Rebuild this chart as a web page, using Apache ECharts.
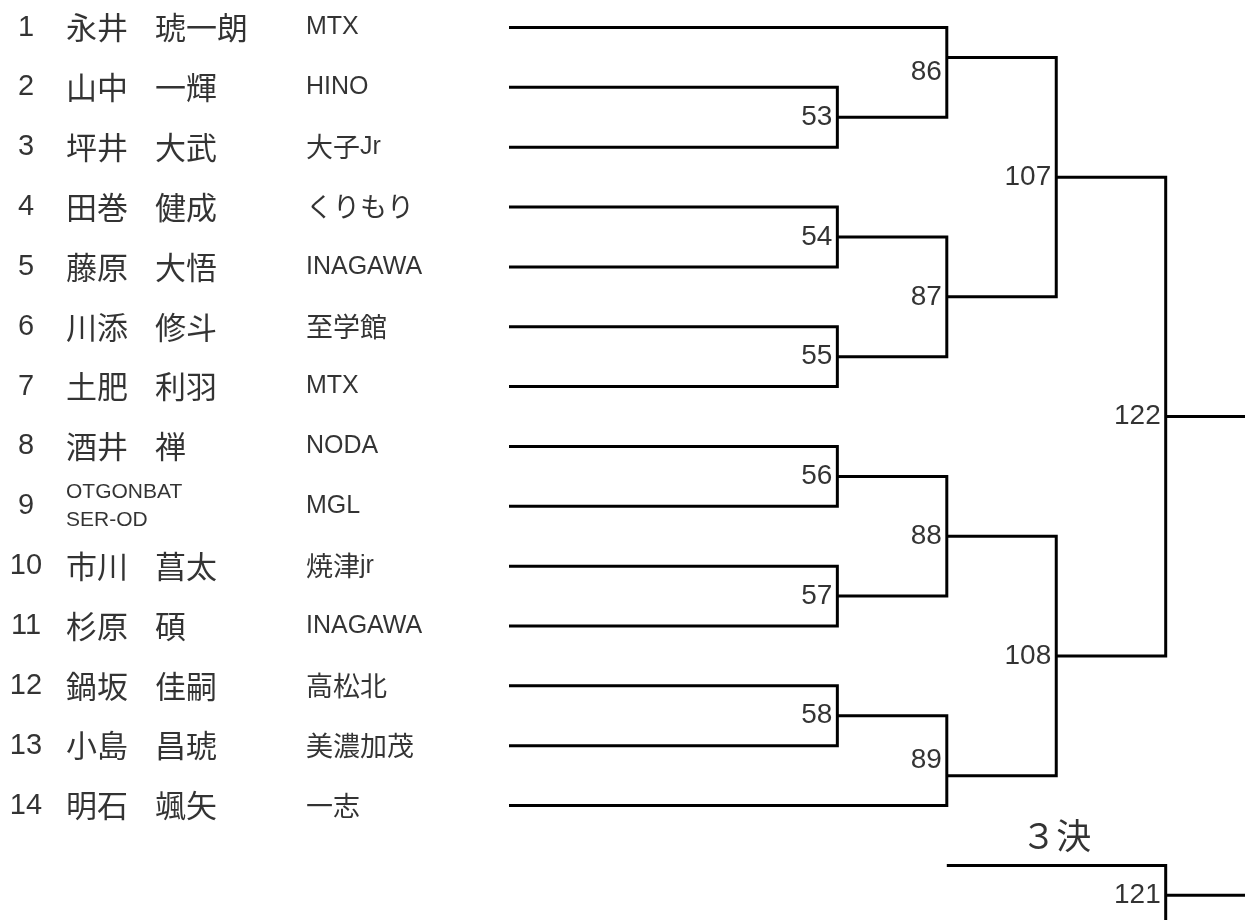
<!DOCTYPE html>
<html>
<head>
<meta charset="utf-8">
<script src="https://cdn.jsdelivr.net/npm/echarts@6/dist/echarts.min.js"></script>
<style>html,body{margin:0;padding:0;background:#fff}#c{width:1245px;height:920px}</style>
</head>
<body>
<div id="c"></div>
<script>
// ---------- data ----------
const playerNos = [1, 2, 3, 4, 5, 6, 7, 8, 9, 10, 11, 12, 13, 14];
const surnames = ['永井', '山中', '坪井', '田巻', '藤原', '川添', '土肥', '酒井', 'OTGONBAT', '市川', '杉原', '鍋坂', '小島', '明石'];
const givenNames = ['琥一朗', '一輝', '大武', '健成', '大悟', '修斗', '利羽', '禅', 'SER-OD', '菖太', '碩', '佳嗣', '昌琥', '颯矢'];
const teams = ['MTX', 'HINO', '大子Jr', 'くりもり', 'INAGAWA', '至学館', 'MTX', 'NODA', 'MGL', '焼津jr', 'INAGAWA', '高松北', '美濃加茂', '一志'];

const matchNos    = [53, 54, 55, 56, 57, 58, 86, 87, 88, 89, 107, 108, 122, 121];
const matchTop    = ['P2', 'P4', 'P6', 'P8', 'P10', 'P12', 'P1', 'M54', 'M56', 'M58', 'M86', 'M88', 'M107', 'L107'];
const matchBottom = ['P3', 'P5', 'P7', 'P9', 'P11', 'P13', 'M53', 'M55', 'M57', 'P14', 'M87', 'M89', 'M108', 'L108'];
const matchRound  = [3, 3, 3, 3, 3, 3, 4, 4, 4, 4, 5, 5, 6, 6];
const matchExitRow = [null, null, null, null, null, null, 1.5, null, null, 13.5, null, null, null, null];
const thirdPlaceTitle = '３決';
const thirdPlaceRows = [15, 16];   // slots of the 3rd-place match (L107 / L108)
const thirdPlaceStartRound = 4;

// ---------- layout ----------
const W = 1245, H = 920;
const COL_UNIT = 109.45, COL0_PX = 509, ROW_UNIT = 59.85, ROW1_PX = 27.5;
const xMin = -COL0_PX / COL_UNIT, xMax = (W - COL0_PX) / COL_UNIT;
const yMin = 1 - ROW1_PX / ROW_UNIT, yMax = yMin + H / ROW_UNIT;
const pxToCol = px => (px - COL0_PX) / COL_UNIT;
const numberX = pxToCol(26), surnameX = pxToCol(66), givenX = pxToCol(155), teamX = pxToCol(306);

// ---------- build bracket ----------
const slots = {};
playerNos.forEach(n => { slots['P' + n] = { row: n, col: 0 }; });
slots['L107'] = { row: thirdPlaceRows[0], col: thirdPlaceStartRound };
slots['L108'] = { row: thirdPlaceRows[1], col: thirdPlaceStartRound };
const referenced = new Set([...matchTop, ...matchBottom]);
const lineData = [], matchLabelData = [];
matchNos.forEach((no, i) => {
  const a = slots[matchTop[i]], b = slots[matchBottom[i]], c = matchRound[i];
  const mid = (a.row + b.row) / 2;
  const out = matchExitRow[i] != null ? matchExitRow[i] : mid;
  slots['M' + no] = { row: out, col: c };
  lineData.push({ coords: [[a.col, a.row], [c, a.row], [c, b.row], [b.col, b.row]] });
  matchLabelData.push([c, mid, String(no)]);
  if (!referenced.has('M' + no)) lineData.push({ coords: [[c, out], [xMax + 1, out]] });
});

const LATIN = "'Liberation Sans', Arial, sans-serif";
const CJK = "'Noto Sans CJK JP', sans-serif";
const mixRich = (s) => s.replace(/([\x00-\x7f]+)|([^\x00-\x7f]+)/g, (m, l, c) => l ? '{l|' + l + '}' : '{c|' + c + '}');

function textSeries(data, label) {
  return {
    type: 'scatter', symbolSize: 0, silent: true, data,
    itemStyle: { color: 'transparent' },
    label: Object.assign({ show: true, color: '#000', formatter: p => p.value[2] }, label)
  };
}

const numberData = playerNos.map(n => [numberX, n, String(n)]);
const surnameData = [], givenData = [], latinNameData = [];
playerNos.forEach((n, i) => {
  if (/^[A-Za-z]/.test(surnames[i])) latinNameData.push([surnameX, n, surnames[i] + '\n' + givenNames[i]]);
  else { surnameData.push([surnameX, n, surnames[i]]); givenData.push([givenX, n, givenNames[i]]); }
});
const teamData = playerNos.map((n, i) => [teamX, n, teams[i]]);

const chart = echarts.init(document.getElementById('c'), null, { renderer: 'canvas' });
chart.setOption({
  animation: false,
  backgroundColor: '#fff',
  grid: { left: 0, right: 0, top: 0, bottom: 0, containLabel: false, outerBoundsMode: 'none' },
  xAxis: { type: 'value', min: xMin, max: xMax, show: false },
  yAxis: { type: 'value', min: yMin, max: yMax, inverse: true, show: false },
  series: [
    {
      type: 'lines', coordinateSystem: 'cartesian2d', polyline: true, silent: true, clip: false,
      data: lineData,
      lineStyle: { color: '#000', width: 3, opacity: 1, cap: 'butt', join: 'miter' }
    },
    textSeries(numberData, { position: 'inside', fontFamily: LATIN, fontSize: 29 }),
    textSeries(surnameData, { position: 'right', distance: 0, fontFamily: CJK, fontSize: 31 }),
    textSeries(givenData, { position: 'right', distance: 0, fontFamily: CJK, fontSize: 31 }),
    textSeries(latinNameData, { position: 'right', distance: 0, fontFamily: LATIN, fontSize: 21, lineHeight: 28 }),
    textSeries(teamData, {
      position: 'right', distance: 0,
      formatter: p => mixRich(p.value[2]),
      rich: {
        l: { fontFamily: LATIN, fontSize: 25, color: '#000' },
        c: { fontFamily: CJK, fontSize: 27, color: '#000' }
      }
    }),
    textSeries(matchLabelData, { position: 'left', distance: 5, fontFamily: LATIN, fontSize: 28 }),
    textSeries([[5, 14.5, thirdPlaceTitle]], { position: 'inside', fontFamily: CJK, fontSize: 35 })
  ]
});
</script>
</body>
</html>
